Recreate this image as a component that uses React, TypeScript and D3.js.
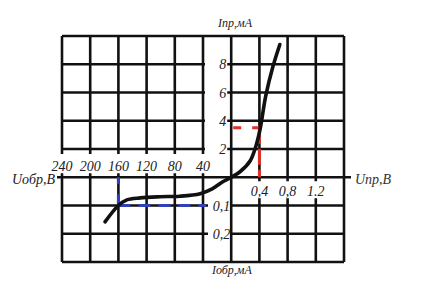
import React from "react";
import * as d3 from "d3";

// ---- data ----
const negTicks = [240, 200, 160, 120, 80, 40]; // Uобр, V
const posTicks = [0.4, 0.8, 1.2]; // Uпр, V
const posTickLabels = ["0,4", "0,8", "1.2"];
const yPosTicks = [2, 4, 6, 8]; // Iпр, mA
const yNegTicks = [0.1, 0.2]; // Iобр, mA
const yNegTickLabels = ["0,1", "0,2"];

// reverse branch (U in V, I in mA)
const revU = [-179, -160, -148, -129, -101, -73, -44, -27, -12, 0];
const revI = [-0.158, -0.1, -0.08, -0.073, -0.069, -0.067, -0.058, -0.041, -0.016, 0];
// forward branch
const fwdU = [0.125, 0.27, 0.35, 0.41, 0.49, 0.59, 0.69];
const fwdI = [0.39, 1.17, 2.2, 3.4, 5.76, 7.8, 9.4];

const refFwd = { u: 0.4, i: 3.5 };
const refRev = { u: -160, i: -0.1 };

export default function App() {
  const gx = d3.scaleLinear().domain([0, 10]).range([62, 344]);
  const gy = d3.scaleLinear().domain([0, 8]).range([36, 262]);
  const xNeg = d3.scaleLinear().domain([-240, 0]).range([gx(0), gx(6)]);
  const xPos = d3.scaleLinear().domain([0, 1.6]).range([gx(6), gx(10)]);
  const yPos = d3.scaleLinear().domain([0, 10]).range([gy(5), gy(0)]);
  const yNeg = d3.scaleLinear().domain([0, -0.3]).range([gy(5), gy(8)]);

  const ax = gx(6);
  const ay = gy(5);

  const pts: [number, number][] = [
    ...revU.map((u, k) => [xNeg(u), yNeg(revI[k])] as [number, number]),
    ...fwdU.map((u, k) => [xPos(u), yPos(fwdI[k])] as [number, number]),
  ];
  const line = d3.line().curve(d3.curveCatmullRom.alpha(0.5));
  const curvePath = line(pts) || "";

  const segs: [number, number, number, number][] = [];
  // vertical lines
  for (let c = 0; c <= 10; c++) {
    const x = gx(c);
    if (c <= 5) {
      segs.push([x, gy(0), x, gy(4) + 5]);
      segs.push([x, ay - 4, x, gy(8)]);
    } else if (c >= 7 && c <= 9) {
      segs.push([x, gy(0), x, ay + 4]);
      segs.push([x, ay + 21, x, gy(8)]);
    } else {
      segs.push([x, gy(0), x, gy(8)]);
    }
  }
  // horizontal lines
  for (let r = 0; r <= 8; r++) {
    const y = gy(r);
    if (r >= 1 && r <= 4) {
      segs.push([gx(0), y, gx(5) + 2, y]);
      segs.push([ax - 4, y, gx(10), y]);
    } else if (r >= 6 && r <= 7) {
      segs.push([gx(0), y, gx(5) + 5, y]);
      segs.push([ax, y, gx(10), y]);
    } else if (r === 5) {
      segs.push([gx(0) - 5, y, gx(10) + 7, y]);
    } else {
      segs.push([gx(0), y, gx(10), y]);
    }
  }

  const font = "'Liberation Serif', 'Times New Roman', serif";
  const tc = "#222";

  return (
    <svg width={442} height={288} style={{ position: "absolute", left: 0, top: 0, background: "#fff" }}>
      <rect x={0} y={0} width={442} height={288} fill="#fff" />
      <g stroke="#111" strokeWidth={2.6} strokeLinecap="butt">
        {segs.map((s, k) => (
          <line key={k} x1={s[0]} y1={s[1]} x2={s[2]} y2={s[3]} />
        ))}
      </g>
      {/* reference dashed lines */}
      <line x1={xPos(0) + 2} y1={yPos(refFwd.i)} x2={xPos(refFwd.u)} y2={yPos(refFwd.i)}
        stroke="#e0302a" strokeWidth={3} strokeDasharray="8,11" />
      <line x1={xPos(refFwd.u)} y1={yPos(refFwd.i)} x2={xPos(refFwd.u)} y2={ay}
        stroke="#e0302a" strokeWidth={3} strokeDasharray="16,5" />
      <line x1={xNeg(refRev.u)} y1={ay} x2={xNeg(refRev.u)} y2={yNeg(refRev.i)}
        stroke="#3040b8" strokeWidth={3} strokeDasharray="7,10,12" />
      <line x1={xNeg(refRev.u)} y1={yNeg(refRev.i)} x2={gx(5) + 3} y2={yNeg(refRev.i)}
        stroke="#3040b8" strokeWidth={3} strokeDasharray="12,8" />
      <path d={curvePath} fill="none" stroke="#111" strokeWidth={3.6} strokeLinecap="round" />
      <g fontFamily={font} fontStyle="italic" fill={tc} fontSize={14}>
        {negTicks.map((v) => (
          <text key={"n" + v} x={xNeg(-v)} y={171} textAnchor="middle">{v}</text>
        ))}
        {posTicks.map((v, k) => (
          <text key={"p" + v} x={xPos(v)} y={196} textAnchor="middle">{posTickLabels[k]}</text>
        ))}
        {yPosTicks.map((v) => (
          <text key={"y" + v} x={ax - 5} y={yPos(v) + 5} textAnchor="end">{v}</text>
        ))}
        {yNegTicks.map((v, k) => (
          <text key={"q" + v} x={ax - 1} y={yNeg(-v) + 5} textAnchor="end">{yNegTickLabels[k]}</text>
        ))}
        <text x={12} y={184} fontSize={14}>Uобр,В</text>
        <text x={355} y={184} fontSize={14} fill="#333">Uпр,В</text>
        <text x={218} y={27} fontSize={12}>Iпр,мА</text>
        <text x={212} y={274} fontSize={12}>Iобр,мА</text>
      </g>
    </svg>
  );
}
